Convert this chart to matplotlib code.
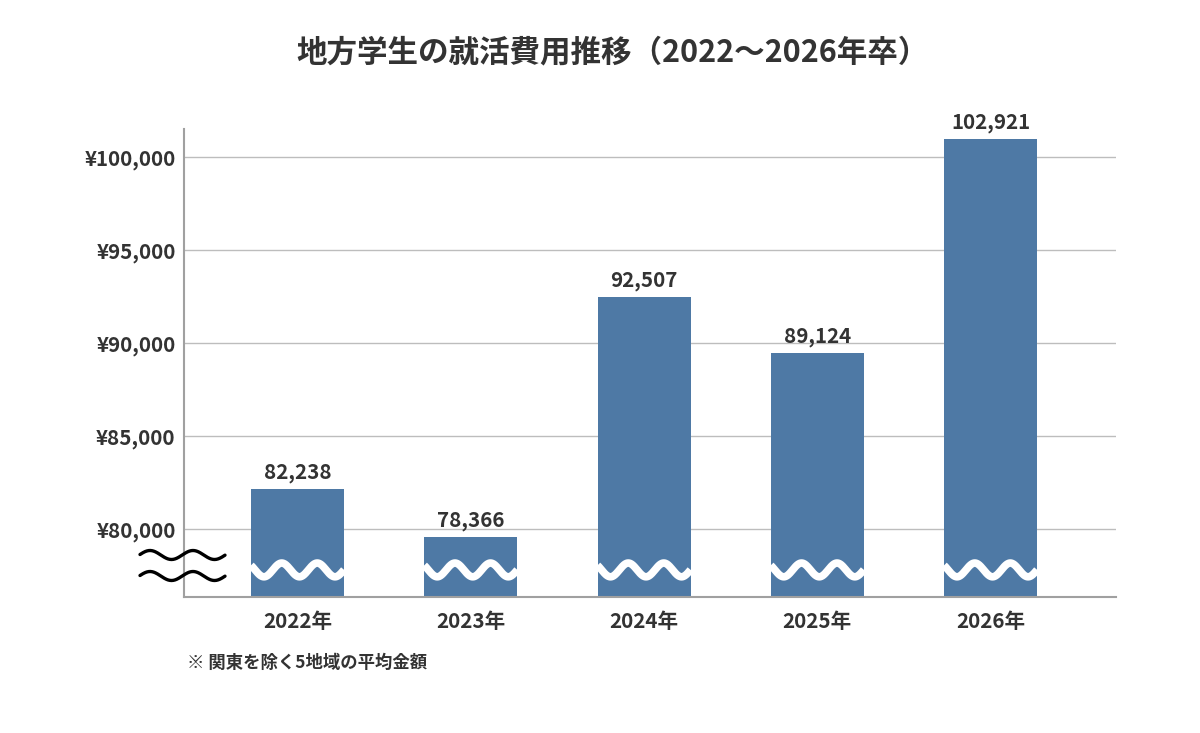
import numpy as np
import matplotlib
matplotlib.use("Agg")
import matplotlib.pyplot as plt
from matplotlib.lines import Line2D

plt.rcParams['font.family'] = ['Noto Sans CJK JP', 'DejaVu Sans']

# ---- data ----
years = ['2022年', '2023年', '2024年', '2025年', '2026年']
value_labels = ['82,238', '78,366', '92,507', '89,124', '102,921']
# bar heights as drawn in the reference (axis is broken / stylised)
bar_heights = [82150, 79570, 92470, 89460, 100970]
yticks = [80000, 85000, 90000, 95000, 100000]
ytick_labels = ['¥80,000', '¥85,000', '¥90,000', '¥95,000', '¥100,000']
title = '地方学生の就活費用推移（2022～2026年卒）'
footnote = '※ 関東を除く5地域の平均金額'

# ---- style ----
W, H = 1200, 733
fig = plt.figure(figsize=(12, 7.33), dpi=100)
ax = fig.add_axes([184 / W, 1 - 597 / H, (1116 - 184) / W, (597 - 129) / H])

text_color = '#333333'
bar_color = '#4e79a5'

x = np.arange(len(years))
bw = 0.537
ax.bar(x, bar_heights, width=bw, color=bar_color, zorder=2)

ax.set_xlim(-0.655, len(years) - 1 + 0.724)
ax.set_ylim(76344, 101505)

ax.set_yticks(yticks)
ax.set_yticklabels(ytick_labels)
ax.set_xticks(x)
ax.set_xticklabels(years)
for lab in ax.get_yticklabels() + ax.get_xticklabels():
    lab.set_fontweight('bold')
    lab.set_color(text_color)
    lab.set_fontsize(14.8)
ax.tick_params(axis='y', length=0, pad=6)
ax.tick_params(axis='x', length=0, pad=10)

ax.grid(axis='y', color='#bdbdbd', linewidth=1, zorder=0)
ax.set_axisbelow(True)
for s in ['top', 'right']:
    ax.spines[s].set_visible(False)
for s in ['left', 'bottom']:
    ax.spines[s].set_color('#a0a0a0')
    ax.spines[s].set_linewidth(1.5)

# value labels
for xi, h, lab in zip(x, bar_heights, value_labels):
    ax.annotate(lab, (xi, h), xytext=(0, 4), textcoords='offset points',
                ha='center', va='bottom', fontsize=14.8, fontweight='bold',
                color=text_color)

# white waves inside bars (break marks)
wave_c = 77800
wave_amp = 370
wave_period = 0.205
wave_off = 0.075
for xi in x:
    xs = np.linspace(xi - bw / 2, xi + bw / 2, 300)
    ys = wave_c - wave_amp * np.cos(2 * np.pi * (xs - (xi - bw / 2) - wave_off) / wave_period)
    ax.plot(xs, ys, color='white', linewidth=5.5, solid_capstyle='butt', zorder=3)

# black break marks left of axis (figure pixel coordinates)
for yc in [555, 576]:
    px = np.linspace(140, 225, 200)
    py = yc - 4.5 * np.cos(2 * np.pi * (px - 150) / 43)
    fig.add_artist(Line2D(px / W, 1 - py / H, color='black', linewidth=2.4,
                          solid_capstyle='round'))

fig.text(613 / W, 1 - 52 / H, title, ha='center', va='center',
         fontsize=22, fontweight='bold', color=text_color)
fig.text(187 / W, 1 - 663 / H, footnote, ha='left', va='center',
         fontsize=12.5, fontweight='bold', color=text_color)

fig.savefig('out.png', dpi=100, facecolor='white')
